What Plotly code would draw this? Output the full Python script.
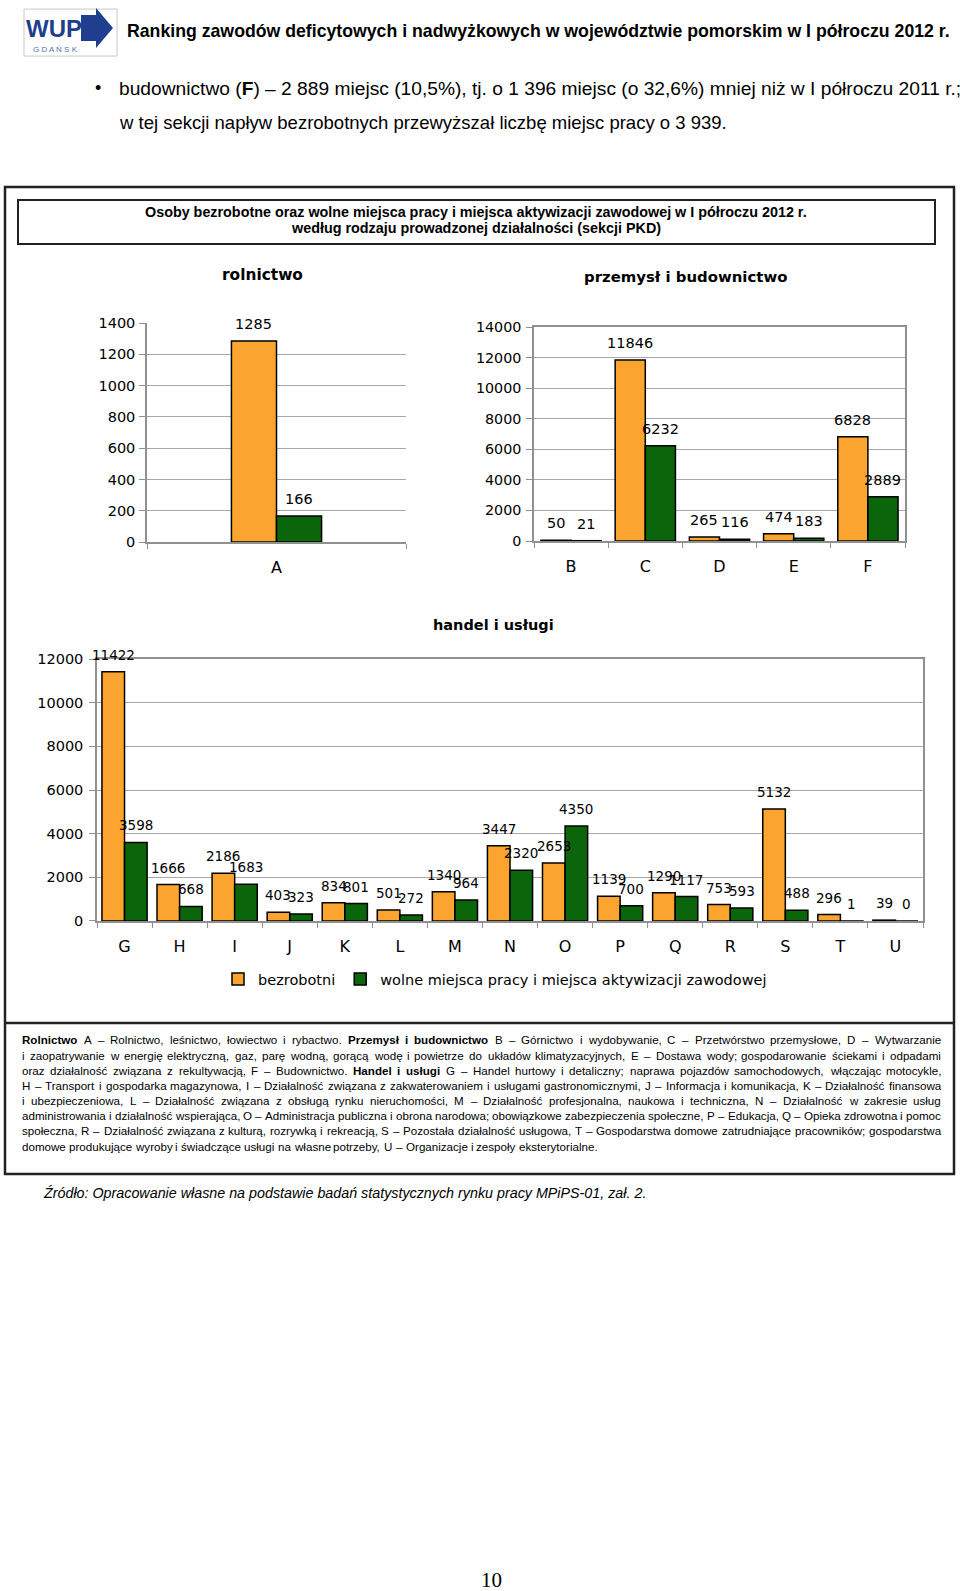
import re
import plotly.graph_objects as go

# ---------------- data ----------------
cat_rol = ["A"]
bez_rol = [1285]
wol_rol = [166]

cat_prz = ["B", "C", "D", "E", "F"]
bez_prz = [50, 11846, 265, 474, 6828]
wol_prz = [21, 6232, 116, 183, 2889]

cat_han = ["G", "H", "I", "J", "K", "L", "M", "N", "O", "P", "Q", "R", "S", "T", "U"]
bez_han = [11422, 1666, 2186, 403, 834, 501, 1340, 3447, 2653, 1139, 1290, 753, 5132, 296, 39]
wol_han = [3598, 668, 1683, 323, 801, 272, 964, 2320, 4350, 700, 1117, 593, 488, 1, 0]

ticks_rol = [0, 200, 400, 600, 800, 1000, 1200, 1400]
ticks_prz = [0, 2000, 4000, 6000, 8000, 10000, 12000, 14000]
ticks_han = [0, 2000, 4000, 6000, 8000, 10000, 12000]

name_bez = "bezrobotni"
name_wol = "wolne miejsca pracy i miejsca aktywizacji zawodowej"

W, H = 960, 1591
# the page is photographed slightly compressed vertically; place items so they land on target pixels
SY, OY = 0.99004, 7.92
def X(px): return px / W
def Y(py): return 1 - ((py - OY) / SY) / H

ORANGE = "#FBA530"
GREEN = "#0B650B"
CHART_FONT = "DejaVu Sans"
TEXT_FONT = "Liberation Sans"

fig = go.Figure()
ann = []
shapes = []

def add_pair(cats, b, w, xa, ya, width, tsize, legend):
    for vals, nm, col, off in ((b, name_bez, ORANGE, -width), (w, name_wol, GREEN, 0)):
        fig.add_trace(go.Bar(x=cats, y=vals, name=nm, xaxis=xa, yaxis=ya,
                             marker=dict(color=col, line=dict(color="black", width=1.5)),
                             width=width, offset=off, showlegend=legend,
                             hovertemplate="%{x}: %{y}<extra></extra>"))
        for i, v in enumerate(vals):
            ann.append(dict(xref=xa, yref=ya, x=i + off + width / 2, y=v, text=str(v),
                            showarrow=False, yanchor="middle", yshift=17,
                            font=dict(family=CHART_FONT, size=tsize, color="black")))

add_pair(cat_rol, bez_rol, wol_rol, "x", "y", 0.174, 14.5, False)
add_pair(cat_prz, bez_prz, wol_prz, "x2", "y2", 0.406, 14.5, False)
add_pair(cat_han, bez_han, wol_han, "x3", "y3", 0.41, 13.5, True)

GRID = "#A8A8A8"
AX = "#909090"

def xaxis(dom, anchor, mirror, n):
    return dict(domain=dom, anchor=anchor, type="category", showgrid=False,
                range=[-0.5, n - 0.5], autorange=False,
                showline=True, linecolor=AX, linewidth=1.5, mirror=mirror,
                ticks="outside", tickson="boundaries", ticklen=5, tickcolor=AX,
                tickfont=dict(family=CHART_FONT, size=16, color="black"),
                ticklabelstandoff=10, fixedrange=True)

def yaxis(dom, anchor, rng, tv, size, mirror, standoff):
    return dict(domain=dom, anchor=anchor, range=rng, tickvals=tv,
                ticktext=[str(v) for v in tv], showgrid=True, gridcolor=GRID,
                gridwidth=1.2, showline=True, linecolor=AX, linewidth=1.5, mirror=mirror,
                ticks="outside", ticklen=6, tickcolor=AX, zeroline=False,
                tickfont=dict(family=CHART_FONT, size=size, color="black"),
                ticklabelstandoff=standoff, fixedrange=True)

fig.update_layout(
    width=W, height=H, margin=dict(l=0, r=0, t=0, b=0),
    paper_bgcolor="white", plot_bgcolor="white", barmode="overlay",
    xaxis=xaxis([X(147), X(406)], "y", False, len(cat_rol)),
    yaxis=yaxis([Y(542), Y(323)], "x", [0, 1400], ticks_rol, 14.5, False, 1),
    xaxis2=xaxis([X(534), X(905)], "y2", True, len(cat_prz)),
    yaxis2=yaxis([Y(541), Y(327)], "x2", [0, 14000], ticks_prz, 14.3, True, 2),
    xaxis3=xaxis([X(97), X(923)], "y3", True, len(cat_han)),
    yaxis3=yaxis([Y(921), Y(659)], "x3", [0, 12000], ticks_han, 14.5, True, 3),
    legend=dict(orientation="h", x=X(218), y=Y(979), xanchor="left", yanchor="middle",
                font=dict(family=CHART_FONT, size=14.5, color="black"),
                bgcolor="rgba(0,0,0,0)", itemclick=False, itemdoubleclick=False,
                traceorder="normal"),
)

def text(px, py, s, size, family=TEXT_FONT, xanchor="left", color="black", bold=False, italic=False):
    if bold:
        s = "<b>" + s + "</b>"
    if italic:
        s = "<i>" + s + "</i>"
    ann.append(dict(x=X(px), y=Y(py), xref="paper", yref="paper", text=s, showarrow=False,
                    xanchor=xanchor, yanchor="middle",
                    font=dict(family=family, size=size, color=color)))

# logo
shapes.append(dict(type="rect", xref="paper", yref="paper", x0=X(24), x1=X(117), y0=Y(56), y1=Y(9),
                   line=dict(color="#C8C8C8", width=1), fillcolor="white", layer="below"))
pts = [(81, 15), (96, 15), (96, 8), (113, 28), (96, 48), (96, 41), (81, 41)]
path = "M " + " L ".join(f"{X(a)} {Y(b)}" for a, b in pts) + " Z"
shapes.append(dict(type="path", xref="paper", yref="paper", path=path, layer="below",
                   fillcolor="#203E8E", line=dict(color="#203E8E", width=0)))
text(54, 28, "WUP", 24, xanchor="center", color="#203E8E", bold=True)
text(55, 49, "G D A Ń S K", 8, xanchor="center", color="#5A6FA8")

# header
text(125, 31, "Ranking zawodów deficytowych i nadwyżkowych w województwie pomorskim w I półroczu 2012 r.",
     17.7, bold=True)
text(93, 88, "•", 18)
text(117, 88, "budownictwo (<b>F</b>) – 2 889 miejsc (10,5%), tj. o 1 396 miejsc (o 32,6%) mniej niż w I półroczu 2011 r.;", 19.2)
text(117, 122, "w tej sekcji napływ bezrobotnych przewyższał liczbę miejsc pracy o 3 939.", 18.5)

# frames
shapes.append(dict(type="rect", xref="paper", yref="paper", x0=X(5), x1=X(954), y0=Y(1174), y1=Y(187),
                   line=dict(color="#222222", width=2.5)))
shapes.append(dict(type="line", xref="paper", yref="paper", x0=X(5), x1=X(954), y0=Y(1023), y1=Y(1023),
                   line=dict(color="#222222", width=2.5)))
shapes.append(dict(type="rect", xref="paper", yref="paper", x0=X(18), x1=X(935), y0=Y(244), y1=Y(200),
                   line=dict(color="#222222", width=2)))

text(476, 212, "Osoby bezrobotne oraz wolne miejsca pracy i miejsca aktywizacji zawodowej w I półroczu 2012 r.",
     14.35, xanchor="center", bold=True)
text(476, 228, "według rodzaju prowadzonej działalności (sekcji PKD)", 14.35, xanchor="center", bold=True)

text(262, 275, "rolnictwo", 15.4, family=CHART_FONT, xanchor="center", bold=True)
text(685, 277, "przemysł i budownictwo", 14.9, family=CHART_FONT, xanchor="center", bold=True)
text(494, 625, "handel i usługi", 14.5, family=CHART_FONT, xanchor="center", bold=True)

# ---- description (justified, Arial-metric word placement) ----
REG = dict(zip(" abcdefghijklmnopqrstuvwxyz", [278, 556, 556, 500, 556, 556, 278, 556, 556, 222, 222, 500, 222, 833,
                                                556, 556, 556, 556, 333, 500, 278, 556, 500, 722, 500, 500, 500]))
REG.update(dict(zip("ABCDEFGHIJKLMNOPQRSTUVWXYZ", [667, 667, 722, 722, 667, 611, 778, 722, 278, 500, 667, 556, 833,
                                                   722, 778, 667, 778, 722, 667, 611, 722, 667, 944, 667, 667, 611])))
REG.update({",": 278, ".": 278, ";": 278, ":": 278, "–": 556, "(": 333, ")": 333, "%": 889, "-": 333,
            "ą": 556, "ć": 500, "ę": 556, "ł": 222, "ń": 556, "ó": 556, "ś": 500, "ź": 500, "ż": 500})
BOLD = dict(zip(" abcdefghijklmnopqrstuvwxyz", [278, 556, 611, 556, 611, 556, 333, 611, 611, 278, 278, 556, 278, 889,
                                                 611, 611, 611, 611, 389, 556, 333, 611, 556, 778, 556, 556, 500]))
BOLD.update({"H": 722, "P": 667, "R": 722, "ł": 278, "ś": 556, "ó": 611, "ą": 556, "ę": 556})

def wwidth(w, bold):
    t = BOLD if bold else REG
    return sum(t.get(c, REG.get(c, 556)) for c in w) / 1000.0

desc = [
    "<b>Rolnictwo</b> A – Rolnictwo, leśnictwo, łowiectwo i rybactwo. <b>Przemysł i budownictwo</b> B – Górnictwo i wydobywanie, C – Przetwórstwo  przemysłowe, D – Wytwarzanie",
    "i zaopatrywanie w energię elektryczną, gaz, parę wodną, gorącą wodę i powietrze do układów klimatyzacyjnych,  E – Dostawa wody; gospodarowanie ściekami i odpadami",
    "oraz działalność związana z rekultywacją, F – Budownictwo. <b>Handel i usługi</b>  G – Handel hurtowy i detaliczny; naprawa pojazdów samochodowych, włączając motocykle,",
    "H – Transport i gospodarka magazynowa, I – Działalność związana z zakwaterowaniem i usługami gastronomicznymi, J – Informacja i komunikacja, K – Działalność finansowa",
    "i ubezpieczeniowa,  L – Działalność związana z obsługą rynku nieruchomości, M – Działalność profesjonalna, naukowa i techniczna,  N – Działalność w zakresie usług",
    "administrowania i działalność wspierająca, O – Administracja publiczna i obrona narodowa; obowiązkowe zabezpieczenia społeczne, P – Edukacja, Q – Opieka zdrowotna i pomoc",
    "społeczna, R – Działalność związana z kulturą, rozrywką i rekreacją, S – Pozostała działalność usługowa, T – Gospodarstwa domowe zatrudniające pracowników; gospodarstwa",
    "domowe produkujące wyroby i świadczące usługi na własne potrzeby, U – Organizacje i zespoły eksterytorialne.",
]

def tokens(line):
    out = []
    for seg in re.split(r"(<b>.*?</b>)", line):
        if not seg:
            continue
        bold = seg.startswith("<b>")
        s = seg[3:-4] if bold else seg
        for w in s.split():
            out.append((w, bold))
    return out

DSIZE = 11.6
LEFT, RIGHT = 20, 939
for i, line in enumerate(desc):
    toks = tokens(line)
    py = 1040 + i * 15.15
    widths = [wwidth(w, b) * DSIZE for w, b in toks]
    nat_gap = REG[" "] / 1000.0 * DSIZE
    if i < len(desc) - 1:
        gap = (RIGHT - LEFT - sum(widths)) / (len(toks) - 1)
    else:
        gap = nat_gap
    x = LEFT
    for (w, b), ww in zip(toks, widths):
        text(x, py, w, DSIZE, bold=b)
        x += ww + gap

text(41, 1193, "Źródło: Opracowanie własne na podstawie badań statystycznych rynku pracy MPiPS-01, zał. 2.",
     14.3, italic=True)
text(492, 1580, "10", 21, family="Liberation Serif", xanchor="center")

fig.update_layout(shapes=shapes, annotations=ann)
fig.write_html("out.html", config={"displayModeBar": False}, post_script=(
    "document.body.style.margin='0px';document.body.style.overflow='hidden';"
    "var d=document.getElementById('{plot_id}');d.style.position='absolute';"
    "d.style.left='0px';d.style.top='0px';"))
